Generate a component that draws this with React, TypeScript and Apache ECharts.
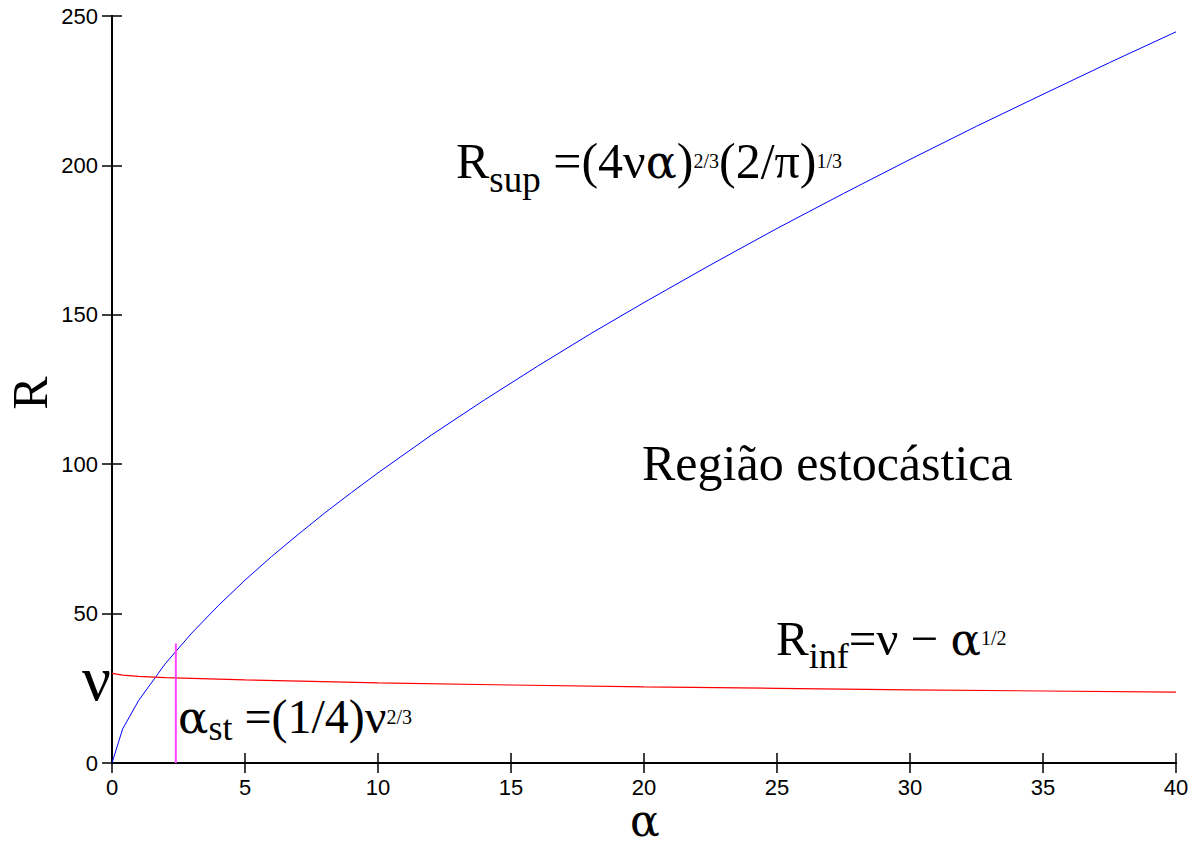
import React, { useEffect, useRef } from "react";
import * as echarts from "echarts";

// alpha samples and curve values
const alphaSup = [0, 0.4, 1, 2, 3, 4, 5, 6, 7, 8, 9, 10, 12, 14, 16, 18, 20, 22.5, 25, 27.5, 30, 32.5, 35, 37.5, 40];
const rSup = [0, 11.4, 20.9, 33.2, 43.5, 52.7, 61.2, 69.1, 76.5, 83.7, 90.5, 97.1, 109.7, 121.5, 132.8, 143.7, 154.1, 166.7, 178.9, 190.6, 202.0, 213.1, 223.8, 234.4, 244.7];
const alphaInf = [0, 0.4, 1, 2, 3, 5, 7.5, 10, 15, 20, 25, 30, 35, 40];
const rInf = [30, 29.4, 29.0, 28.6, 28.3, 27.8, 27.3, 26.8, 26.1, 25.5, 25.0, 24.5, 24.1, 23.7];
const alphaSt = [2.4, 2.4];
const rSt = [0, 40];

const xTicks = { min: 0, max: 40, interval: 5 };
const yTicks = { min: 0, max: 250, interval: 50 };

const SERIF = "'Liberation Serif', 'Times New Roman', serif";
const GREEK = "'DejaVu Serif', 'Liberation Serif', serif";
const SANS = "'Liberation Sans', Arial, sans-serif";

let measureCtx: CanvasRenderingContext2D | null = null;
function measure(text: string, fs: number, family: string) {
  if (!measureCtx) measureCtx = document.createElement("canvas").getContext("2d");
  measureCtx!.font = `${fs}px ${family}`;
  return measureCtx!.measureText(text).width;
}

function txt(text: string, x: number, baseline: number, fs: number, family = SERIF, extra: any = {}) {
  return {
    type: "text",
    x,
    y: baseline - 0.34 * fs,
    style: {
      text,
      fontFamily: family,
      fontSize: fs,
      fill: "#000",
      textAlign: "left",
      textVerticalAlign: "middle",
      verticalAlign: "middle",
      lineHeight: fs,
      ...extra,
    },
    z: 10,
  };
}

type Tok = [string, number, number, string?];
function flow(x0: number, baseline: number, toks: Tok[]) {
  const out: any[] = [];
  let x = x0;
  for (const [t, fs, dy, fam] of toks) {
    const family = fam || SERIF;
    out.push(txt(t, x, baseline + dy, fs, family));
    x += measure(t, fs, family);
  }
  return out;
}

const S = 36; // subscript size
const P = 20; // superscript size

export default function App() {
  const ref = useRef<HTMLDivElement>(null);
  useEffect(() => {
    const chart = echarts.init(ref.current!, undefined, { renderer: "svg" });
    const axisCommon = {
      type: "value",
      axisLine: { show: true, lineStyle: { color: "#000", width: 2 } },
      axisTick: { show: true, inside: true, length: 10, lineStyle: { color: "#000", width: 1.5 } },
      splitLine: { show: false },
    };
    chart.setOption({
      animation: false,
      backgroundColor: "#fff",
      grid: { left: 112, top: 16, right: 19, bottom: 83, containLabel: false },
      xAxis: [
        {
          ...axisCommon,
          position: "bottom",
          ...xTicks,
          axisLabel: { color: "#000", fontSize: 22, fontFamily: SANS, margin: 16, lineHeight: 16 },
        },
        {
          ...axisCommon,
          position: "top",
          ...xTicks,
          axisLabel: { show: false },
        },
      ],
      yAxis: [
        {
          ...axisCommon,
          position: "left",
          ...yTicks,
          axisLabel: { color: "#000", fontSize: 22, fontFamily: SANS, margin: 14 },
        },
        {
          ...axisCommon,
          position: "right",
          ...yTicks,
          axisLabel: { show: false },
        },
      ],
      series: [
        {
          type: "line",
          data: alphaSup.map((a, i) => [a, rSup[i]]),
          showSymbol: false,
          lineStyle: { color: "#0000ff", width: 1 },
        },
        {
          type: "line",
          data: alphaInf.map((a, i) => [a, rInf[i]]),
          showSymbol: false,
          lineStyle: { color: "#ff0000", width: 1.2 },
        },
        {
          type: "line",
          data: alphaSt.map((a, i) => [a, rSt[i]]),
          showSymbol: false,
          lineStyle: { color: "#ff44ff", width: 2 },
        },
      ],
      graphic: [
        // R_sup label
        ...flow(456, 178, [
          ["R", 50, 0],
          ["sup", 37, 14],
          [" =(4", 50, 0],
          ["ν", 50, 0],
          ["α", 46, 0, GREEK],
          [")", 50, 0],
          ["2/3", P, -10],
          ["(2/π)", 50, 0],
          ["1/3", P, -10],
        ]),
        // Região
        txt("Região estocástica", 642, 480, 50),
        // R_inf
        ...flow(776, 655, [
          ["R", 49, 0],
          ["inf", S, 13],
          ["=ν − ", 49, 0],
          ["α", 45, 0, GREEK],
          ["1/2", P, -10],
        ]),
        // alpha_st
        ...flow(178, 733, [
          ["α", 45, 0, GREEK],
          ["st", S, 7],
          [" =(1/4)ν", 48, 0],
          ["2/3", P, -9],
        ]),
        // nu on axis
        txt("ν", 82, 700, 64),
        // axis names
        txt("α", 630, 835, 44, GREEK, { lineHeight: 24 }),
        {
          type: "text",
          x: 30,
          y: 393,
          rotation: Math.PI / 2,
          style: {
            text: "R",
            fontFamily: SERIF,
            fontSize: 50,
            fill: "#000",
            textAlign: "center",
            textVerticalAlign: "middle",
            verticalAlign: "middle",
            lineHeight: 40,
          },
        },
      ],
    });
    return () => chart.dispose();
  }, []);
  return (
    <div
      ref={ref}
      style={{ position: "fixed", left: 0, top: 0, width: 1195, height: 846, background: "#fff" }}
    />
  );
}
